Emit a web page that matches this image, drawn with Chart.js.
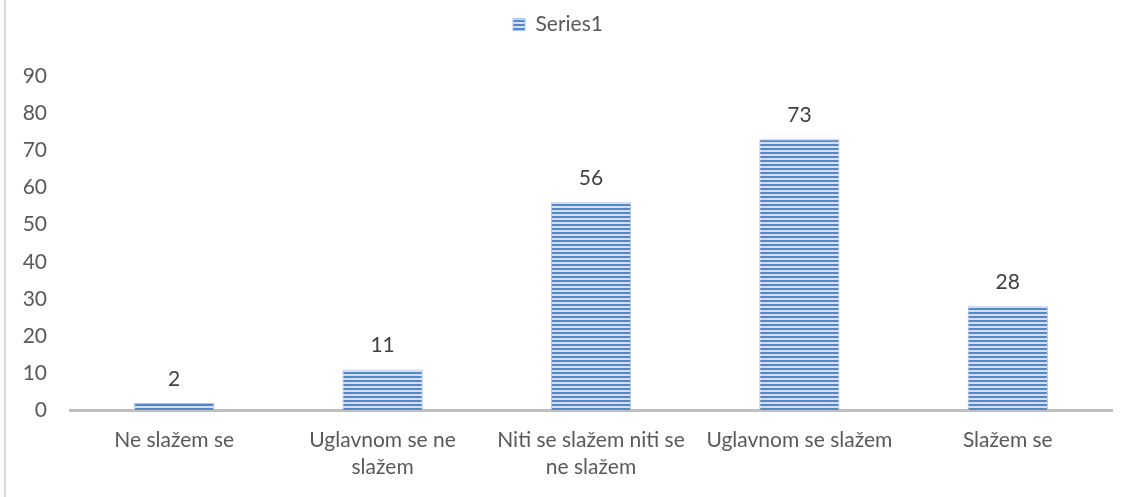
<!DOCTYPE html>
<html>
<head>
<meta charset="utf-8">
<script src="https://cdn.jsdelivr.net/npm/chart.js@4/dist/chart.umd.min.js"></script>
<style>
  html, body { margin: 0; padding: 0; background: #fff; }
  #wrap { position: relative; width: 1138px; height: 497px; }
  #edge { position: absolute; left: 4px; top: 0; width: 2px; height: 497px; background: #d9d9d9; }
</style>
</head>
<body>
<div id="wrap">
  <div id="edge"></div>
  <canvas id="bar-chart" width="1138" height="497"></canvas>
</div>
<script>
var CATEGORIES = [
  "Ne slažem se",
  ["Uglavnom se ne", "slažem"],
  ["Niti se slažem niti se", "ne slažem"],
  "Uglavnom se slažem",
  "Slažem se"
];
var SERIES_NAME = "Series1";
var VALUES = [2, 11, 56, 73, 28];
var Y_TICKS = [0, 10, 20, 30, 40, 50, 60, 70, 80, 90];

var TEXT_COLOR = "#595959";
var FONT = "Lato, 'Open Sans', sans-serif";

// striped fill, like the horizontal line pattern in the original
function makeStripes() {
  var c = document.createElement("canvas");
  c.width = 4; c.height = 4;
  var ctx = c.getContext("2d");
  ctx.fillStyle = "#5686cc";
  ctx.fillRect(0, 0, 4, 2);
  ctx.fillStyle = "#d3e0f2";
  ctx.fillRect(0, 2, 4, 2);
  return ctx.createPattern(c, "repeat");
}
var stripes = makeStripes();

var valueLabels = {
  id: "valueLabels",
  afterDatasetsDraw: function(chart) {
    var ctx = chart.ctx;
    var meta = chart.getDatasetMeta(0);
    ctx.save();
    ctx.font = "21px " + FONT;
    ctx.fillStyle = "#404040";
    ctx.textAlign = "center";
    ctx.textBaseline = "middle";
    meta.data.forEach(function(bar, i) {
      ctx.fillText(String(VALUES[i]), bar.x, bar.y - 24);
    });
    ctx.restore();
  }
};

// more room under the legend
var legendGap = {
  id: "legendGap",
  beforeInit: function(chart) {
    var origFit = chart.legend.fit;
    chart.legend.fit = function() {
      origFit.bind(chart.legend)();
      this.height += 31;
    };
  }
};

new Chart(document.getElementById("bar-chart"), {
  type: "bar",
  data: {
    labels: CATEGORIES,
    datasets: [{
      label: SERIES_NAME,
      data: VALUES,
      backgroundColor: stripes,
      borderColor: "#a9c1e6",
      borderWidth: 1,
      categoryPercentage: 1,
      barPercentage: 0.385
    }]
  },
  options: {
    responsive: false,
    animation: false,
    layout: { padding: { left: 4, right: 26, top: 4, bottom: 8 } },
    plugins: {
      legend: {
        position: "top",
        labels: {
          color: TEXT_COLOR,
          font: { size: 21, family: FONT },
          boxWidth: 12,
          boxHeight: 12,
          padding: 10
        }
      },
      tooltip: { enabled: false }
    },
    scales: {
      x: {
        grid: { display: false },
        border: { color: "#bfbfbf", width: 3 },
        ticks: {
          color: TEXT_COLOR,
          font: { size: 21, family: FONT, lineHeight: 1.3 },
          padding: 8,
          maxRotation: 0,
          autoSkip: false
        }
      },
      y: {
        min: 0,
        max: 90,
        afterBuildTicks: function(axis) {
          axis.ticks = Y_TICKS.map(function(v) { return { value: v }; });
        },
        afterFit: function(axis) { axis.width = 66; },
        grid: { display: false },
        border: { display: false },
        ticks: {
          color: TEXT_COLOR,
          font: { size: 21, family: FONT },
          padding: 15
        }
      }
    }
  },
  plugins: [valueLabels, legendGap]
});
</script>
</body>
</html>
